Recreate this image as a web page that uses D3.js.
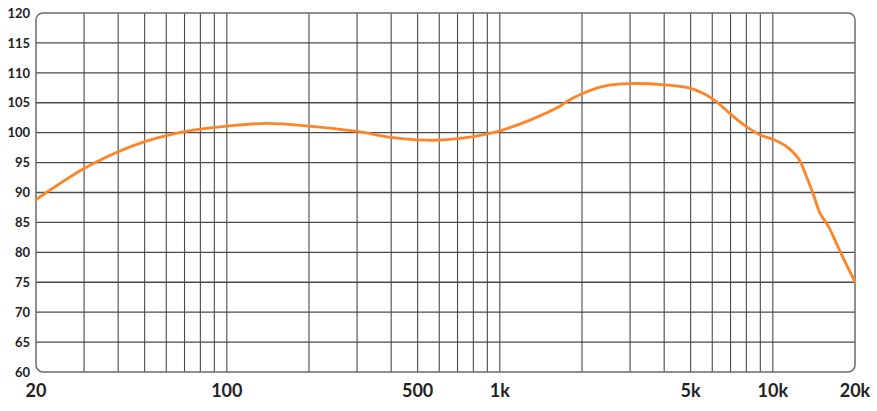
<!DOCTYPE html>
<html>
<head>
<meta charset="utf-8">
<script src="https://cdn.jsdelivr.net/npm/d3@7"></script>
<style>
  html, body { margin: 0; padding: 0; background: #fff; }
  svg { display: block; }
  text { font-family: Lato, "Open Sans", sans-serif; font-weight: 700; fill: #222; }
</style>
</head>
<body>
<svg id="chart" width="877" height="411"></svg>
<script>
// ---- data ----
const freqHz = [20, 30, 40, 50, 65, 80, 100, 140, 200, 300, 400, 500, 600, 700, 800, 900,
  1000, 1290, 1660, 1760, 2000, 2460, 3000, 4000, 5000, 6000, 7000, 8000, 9000, 10000,
  11200, 12400, 13300, 14100, 14900, 16000, 17100, 18400, 20000];
const levelDb = [88.8, 94.0, 96.8, 98.5, 99.9, 100.6, 101.1, 101.55, 101.1, 100.2, 99.2, 98.8, 98.75, 99.0, 99.35, 99.8,
  100.3, 102.1, 104.4, 105.2, 106.5, 107.85, 108.2, 108.0, 107.4, 105.7, 103.1, 101.0, 99.6, 98.9,
  97.7, 95.7, 92.6, 89.6, 86.5, 84.3, 81.5, 78.4, 75.1];
const yTicks = [60, 65, 70, 75, 80, 85, 90, 95, 100, 105, 110, 115, 120];
const xLabelValues = [20, 100, 500, 1000, 5000, 10000, 20000];
const xLabelTexts = ["20", "100", "500", "1k", "5k", "10k", "20k"];
const xGridValues = [30, 40, 50, 60, 70, 80, 90, 100, 200, 300, 400, 500, 600, 700, 800, 900,
  1000, 2000, 3000, 4000, 5000, 6000, 7000, 8000, 9000, 10000];

// ---- layout ----
const mLeft = 36, mRight = 855, mTop = 13, mBottom = 372;
const svg = d3.select("#chart");
const x = d3.scaleLog().domain([20, 20000]).range([mLeft, mRight]);
const y = d3.scaleLinear().domain([60, 120]).range([mBottom, mTop]);

// vertical grid
svg.append("g").selectAll("line").data(xGridValues).join("line")
  .attr("x1", d => x(d)).attr("x2", d => x(d))
  .attr("y1", mTop).attr("y2", mBottom)
  .attr("stroke", "#4a4a4a").attr("stroke-width", 1.1);

// horizontal grid
svg.append("g").selectAll("line").data(yTicks.filter(v => v > 60 && v < 120)).join("line")
  .attr("x1", mLeft).attr("x2", mRight)
  .attr("y1", d => y(d)).attr("y2", d => y(d))
  .attr("stroke", "#4a4a4a").attr("stroke-width", 1.4);

// frame with rounded corners
svg.append("rect")
  .attr("x", mLeft).attr("y", mTop)
  .attr("width", mRight - mLeft).attr("height", mBottom - mTop)
  .attr("rx", 7).attr("ry", 7)
  .attr("fill", "none").attr("stroke", "#6a6a6a").attr("stroke-width", 1.5);

// y labels
svg.append("g").selectAll("text").data(yTicks).join("text")
  .attr("x", 30).attr("y", d => y(d))
  .attr("dy", "0.36em")
  .attr("text-anchor", "end")
  .attr("font-size", 13)
  .text(d => d);

// x labels
svg.append("g").selectAll("text").data(xLabelValues).join("text")
  .attr("x", d => x(d)).attr("y", 397)
  .attr("text-anchor", "middle")
  .attr("font-size", 18)
  .text((d, i) => xLabelTexts[i]);

// response curve
const pts = freqHz.map((f, i) => [f, levelDb[i]]);
const line = d3.line()
  .x(d => x(d[0])).y(d => y(d[1]))
  .curve(d3.curveCatmullRom.alpha(0.5));
svg.append("path")
  .datum(pts)
  .attr("d", line)
  .attr("fill", "none")
  .attr("stroke", "#ff8427")
  .attr("stroke-width", 2.8)
  .attr("stroke-linecap", "round")
  .attr("stroke-linejoin", "round");
</script>
</body>
</html>
